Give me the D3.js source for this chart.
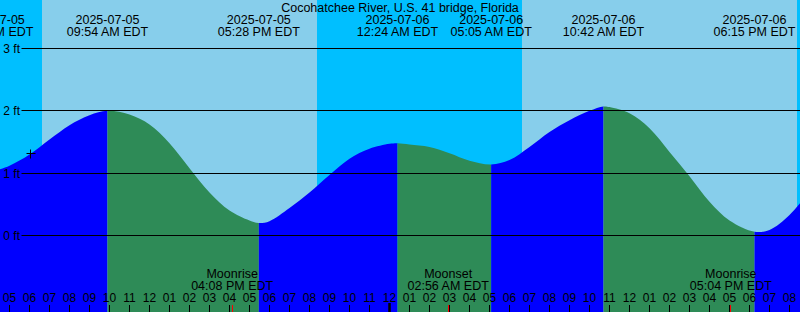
<!DOCTYPE html>
<html>
<head>
<meta charset="utf-8">
<script src="https://cdn.jsdelivr.net/npm/d3@7"></script>
<style>
  html, body { margin: 0; padding: 0; background: #fff; }
  svg { display: block; }
  text { font-family: "Liberation Sans", Arial, sans-serif; fill: #000; }
</style>
</head>
<body>
<svg id="chart" width="800" height="312"></svg>
<script>
// ---------------- DATA ----------------
const stationTitle = "Cocohatchee River, U.S. 41 bridge, Florida";
const tzLabel = "EDT";

// Tide readings (time, height in ft)
const readingTimes = [
  "2025-07-05 04:10", "2025-07-05 05:00", "2025-07-05 06:00", "2025-07-05 07:00", "2025-07-05 08:00",
  "2025-07-05 09:00", "2025-07-05 09:54", "2025-07-05 11:00", "2025-07-05 12:00", "2025-07-05 13:00",
  "2025-07-05 14:00", "2025-07-05 15:00", "2025-07-05 16:00", "2025-07-05 17:00", "2025-07-05 17:28",
  "2025-07-05 18:00", "2025-07-05 19:00", "2025-07-05 20:00", "2025-07-05 21:00", "2025-07-05 22:00",
  "2025-07-05 23:00", "2025-07-06 00:00", "2025-07-06 00:24", "2025-07-06 01:00", "2025-07-06 02:00",
  "2025-07-06 03:00", "2025-07-06 04:00", "2025-07-06 05:05", "2025-07-06 06:00", "2025-07-06 07:00",
  "2025-07-06 08:00", "2025-07-06 09:00", "2025-07-06 10:00", "2025-07-06 10:42", "2025-07-06 11:00",
  "2025-07-06 12:00", "2025-07-06 13:00", "2025-07-06 14:00", "2025-07-06 15:00", "2025-07-06 16:00",
  "2025-07-06 17:00", "2025-07-06 18:15", "2025-07-06 19:00", "2025-07-06 20:00",
  "2025-07-06 21:00"
];
const readingHeights = [
  1.03, 1.12, 1.30, 1.54, 1.77,
  1.93, 2.00, 1.94, 1.78, 1.48,
  1.08, 0.69, 0.40, 0.24, 0.20,
  0.23, 0.44, 0.69, 0.97, 1.23,
  1.39, 1.47, 1.48, 1.46, 1.42,
  1.32, 1.20, 1.14, 1.21, 1.42,
  1.66, 1.85, 2.00, 2.07, 2.06,
  1.96, 1.72, 1.34, 0.95, 0.54,
  0.24, 0.06, 0.09, 0.33,
  0.71
];

// High / low tide events
const extremeTimes = ["2025-07-05 04:10", "2025-07-05 09:54", "2025-07-05 17:28", "2025-07-06 00:24",
                      "2025-07-06 05:05", "2025-07-06 10:42", "2025-07-06 18:15"];
const extremeTypes = ["L", "H", "L", "H", "L", "H", "L"];

// Sun events (night is shaded)
const sunriseTimes = ["2025-07-05 06:37", "2025-07-06 06:37"];
const sunsetTimes  = ["2025-07-05 20:22", "2025-07-06 20:22"];

// Moon events
const moonTimes = ["2025-07-05 16:08", "2025-07-06 02:56", "2025-07-06 17:04"];
const moonNames = ["Moonrise", "Moonset", "Moonrise"];

// Current time marker
const markerTime = "2025-07-05 06:02";
const markerHeight = 1.31;

// Axis ticks
const heightTicks = [0, 1, 2, 3];
const viewStart = "2025-07-05 04:31:30";
const viewEnd   = "2025-07-06 20:31:30";

// ---------------- CHART ----------------
const W = 800, H = 312;
const parse = d3.timeParse("%Y-%m-%d %H:%M");
const parseS = d3.timeParse("%Y-%m-%d %H:%M:%S");
const svg = d3.select("#chart");

const x = d3.scaleTime().domain([parseS(viewStart), parseS(viewEnd)]).range([0, W]);
const y = d3.scaleLinear().domain([0, 3]).range([235.5, 48.5]);
const crisp = v => Math.round(v - 0.5) + 0.5;

const COLORS = { day: "#87CEEB", night: "#00BFFF", rise: "#0000FF", fall: "#2E8B57" };

// background (day)
svg.append("rect").attr("width", W).attr("height", H).attr("fill", COLORS.day);

// night bands
const nightStarts = [x.domain()[0], ...sunsetTimes.map(parse)];
const nightEnds = [...sunriseTimes.map(parse), x.domain()[1]];
svg.append("g").selectAll("rect").data(nightStarts.map((s, i) => [s, nightEnds[i]]))
  .join("rect")
  .attr("x", d => Math.round(x(d[0])))
  .attr("width", d => Math.round(x(d[1])) - Math.round(x(d[0])))
  .attr("y", 0).attr("height", H)
  .attr("fill", COLORS.night);

// tide curve
const tide = readingTimes.map((t, i) => ({ t: parse(t), h: readingHeights[i] }));
const area = d3.area().curve(d3.curveCatmullRom.alpha(0.5))
  .x(d => x(d.t)).y0(H).y1(d => y(d.h));

// segments between extremes: rising = blue, falling = green
const ext = extremeTimes.map(parse);
const bounds = [x.domain()[0], ...ext, new Date(x.domain()[1].getTime() + 3600e3)];
const segs = [];
for (let i = 0; i < bounds.length - 1; i++) {
  let rising;
  if (i < extremeTypes.length) rising = extremeTypes[i] === "H";
  else rising = extremeTypes[extremeTypes.length - 1] === "L";
  segs.push({ a: bounds[i], b: bounds[i + 1], rising });
}
const defs = svg.append("defs");
segs.forEach((s, i) => {
  defs.append("clipPath").attr("id", "seg" + i)
    .append("rect")
    .attr("x", x(s.a)).attr("width", Math.max(0, x(s.b) - x(s.a)))
    .attr("y", 0).attr("height", H);
});
svg.append("g").selectAll("path").data(segs).join("path")
  .attr("d", area(tide))
  .attr("clip-path", (d, i) => `url(#seg${i})`)
  .attr("fill", d => d.rising ? COLORS.rise : COLORS.fall);

// grid lines & y labels
const gy = svg.append("g");
gy.selectAll("line").data(heightTicks).join("line")
  .attr("x1", 21.5).attr("x2", W)
  .attr("y1", d => crisp(y(d))).attr("y2", d => crisp(y(d)))
  .attr("stroke", "#000").attr("stroke-width", 1);
gy.selectAll("text").data(heightTicks).join("text")
  .attr("x", 20).attr("y", d => crisp(y(d)) + 4)
  .attr("text-anchor", "end").attr("font-size", 12)
  .text(d => `${d} ft`);

// title
svg.append("text").attr("x", 400).attr("y", 11.5).attr("text-anchor", "middle")
  .attr("font-size", 12.5).text(stationTitle);

// extreme labels
const fDate = d3.timeFormat("%Y-%m-%d");
const fTime = d3.timeFormat("%I:%M %p");
const gl = svg.append("g").attr("text-anchor", "middle").attr("font-size", 12.5);
gl.selectAll("text.d").data(ext).join("text").attr("class", "d")
  .attr("x", d => x(d)).attr("y", 24).text(d => fDate(d));
gl.selectAll("text.t").data(ext).join("text").attr("class", "t")
  .attr("x", d => x(d)).attr("y", 36).text(d => `${fTime(d)} ${tzLabel}`);

// time axis (ticks above bottom edge, labels above ticks)
const axis = d3.axisTop(x)
  .ticks(d3.timeHour.every(1))
  .tickFormat(d3.timeFormat("%I"))
  .tickSize(7).tickPadding(3);
const ga = svg.append("g").attr("transform", `translate(0,${H})`).call(axis);
ga.select(".domain").remove();
ga.selectAll(".tick").attr("transform", d => `translate(${crisp(x(d))},0)`);
ga.selectAll(".tick line").attr("stroke", "#000");
ga.selectAll(".tick text")
  .attr("font-family", "'Liberation Sans', Arial, sans-serif")
  .attr("font-size", 12).attr("fill", "#000");
ga.selectAll(".tick").filter(d => d.getHours() === 0).select("line")
  .attr("stroke-width", 2.5).attr("y2", -9);

// moon events
const moons = moonTimes.map((t, i) => ({ t: parse(t), name: moonNames[i] }));
const gm = svg.append("g");
gm.selectAll("line").data(moons).join("line")
  .attr("x1", d => crisp(x(d.t))).attr("x2", d => crisp(x(d.t)))
  .attr("y1", H - 7).attr("y2", H)
  .attr("stroke", "#ff0000").attr("stroke-width", 1);
gm.selectAll("text.n").data(moons).join("text").attr("class", "n")
  .attr("x", d => x(d.t)).attr("y", 278).attr("text-anchor", "middle").attr("font-size", 12.5)
  .text(d => d.name);
gm.selectAll("text.t").data(moons).join("text").attr("class", "t")
  .attr("x", d => x(d.t)).attr("y", 290).attr("text-anchor", "middle").attr("font-size", 12.5)
  .text(d => `${fTime(d.t)} ${tzLabel}`);

// current time marker
const mx = crisp(x(parse(markerTime))), my = crisp(y(markerHeight));
svg.append("path")
  .attr("d", `M${mx - 4},${my}H${mx + 5}M${mx},${my - 4}V${my + 5}`)
  .attr("stroke", "#000").attr("stroke-width", 1).attr("fill", "none");
</script>
</body>
</html>
